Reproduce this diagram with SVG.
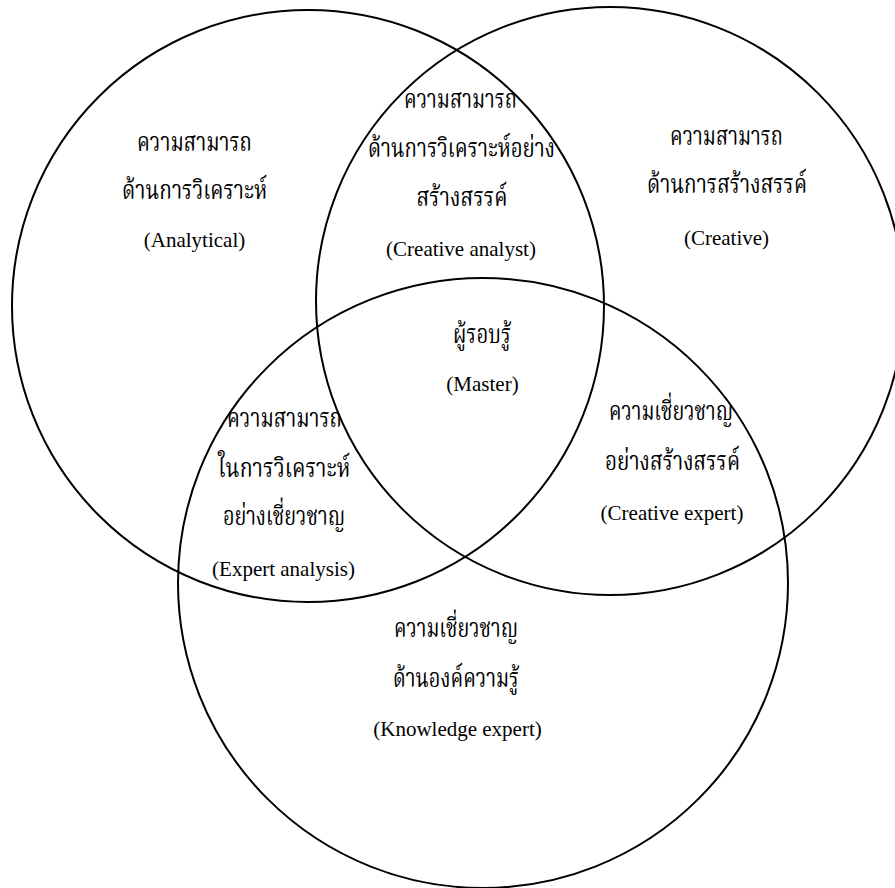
<svg xmlns="http://www.w3.org/2000/svg" width="895" height="888" viewBox="0 0 895 888">
  <style>
    .ring { fill: none; stroke: #000; stroke-width: 2; }
    text { fill: #000; text-anchor: middle; }
    .th { font-family: "Liberation Serif", "Noto Serif Thai", "Noto Sans Thai", "Noto Sans", "DejaVu Sans", serif; font-size: 26px; }
    .en { font-family: "Liberation Serif", "Times New Roman", serif; font-size: 21px; }
  </style>
  <rect width="895" height="888" fill="#fff"/>

  <!-- three overlapping sets -->
  <g id="sets">
    <circle id="set-analytical" class="ring" cx="308" cy="306" r="296"/>
    <circle id="set-creative" class="ring" cx="610" cy="301" r="294"/>
    <circle id="set-knowledge" class="ring" cx="483" cy="583" r="305"/>
  </g>

  <g id="analytical">
    <text class="th" x="194.5" y="151" textLength="115" lengthAdjust="spacingAndGlyphs">ความสามารถ</text>
    <text class="th" x="194.5" y="199" textLength="145" lengthAdjust="spacingAndGlyphs">ด้านการวิเคราะห์</text>
    <text class="en" x="194.5" y="247">(Analytical)</text>
  </g>

  <g id="creative-analyst">
    <text class="th" x="460.5" y="108" textLength="113" lengthAdjust="spacingAndGlyphs">ความสามารถ</text>
    <text class="th" x="461.5" y="157" textLength="187" lengthAdjust="spacingAndGlyphs">ด้านการวิเคราะห์อย่าง</text>
    <text class="th" x="462" y="206" textLength="91" lengthAdjust="spacingAndGlyphs">สร้างสรรค์</text>
    <text class="en" x="461" y="256">(Creative analyst)</text>
  </g>

  <g id="creative">
    <text class="th" x="726.5" y="145" textLength="113" lengthAdjust="spacingAndGlyphs">ความสามารถ</text>
    <text class="th" x="727" y="193" textLength="160" lengthAdjust="spacingAndGlyphs">ด้านการสร้างสรรค์</text>
    <text class="en" x="726.5" y="245">(Creative)</text>
  </g>

  <g id="master">
    <text class="th" x="482" y="343" textLength="58" lengthAdjust="spacingAndGlyphs">ผู้รอบรู้</text>
    <text class="en" x="482.5" y="391">(Master)</text>
  </g>

  <g id="creative-expert">
    <text class="th" x="671" y="420" textLength="124" lengthAdjust="spacingAndGlyphs">ความเชี่ยวชาญ</text>
    <text class="th" x="672.5" y="470" textLength="135" lengthAdjust="spacingAndGlyphs">อย่างสร้างสรรค์</text>
    <text class="en" x="672" y="520">(Creative expert)</text>
  </g>

  <g id="expert-analysis">
    <text class="th" x="284.5" y="427" textLength="115" lengthAdjust="spacingAndGlyphs">ความสามารถ</text>
    <text class="th" x="284" y="477" textLength="132" lengthAdjust="spacingAndGlyphs">ในการวิเคราะห์</text>
    <text class="th" x="284" y="525" textLength="122" lengthAdjust="spacingAndGlyphs">อย่างเชี่ยวชาญ</text>
    <text class="en" x="283.5" y="576">(Expert analysis)</text>
  </g>

  <g id="knowledge-expert">
    <text class="th" x="456" y="637" textLength="124" lengthAdjust="spacingAndGlyphs">ความเชี่ยวชาญ</text>
    <text class="th" x="456" y="687" textLength="126" lengthAdjust="spacingAndGlyphs">ด้านองค์ความรู้</text>
    <text class="en" x="457.5" y="736">(Knowledge expert)</text>
  </g>
</svg>
